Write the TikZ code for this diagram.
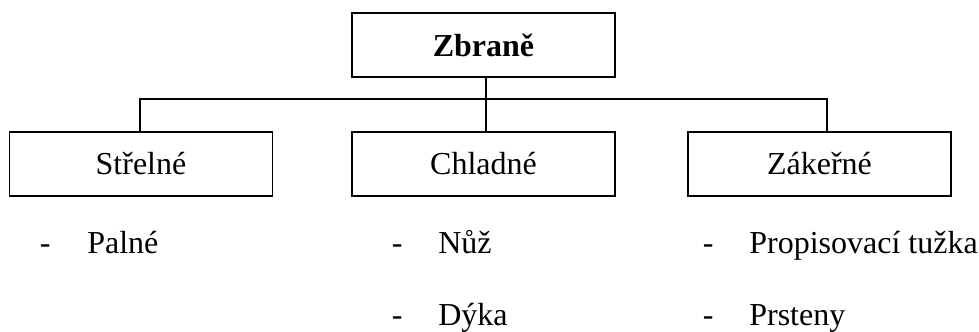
\documentclass[tikz,border=0pt]{standalone}
\usepackage{fontspec}
\setmainfont{Liberation Serif}

\tikzset{every picture/.style={line width=1.2pt}}
\tikzset{
  kindbox/.style={draw, rectangle, inner sep=0.75pt, minimum width=197.25pt, minimum height=48pt, font=\fontsize{24}{28}\selectfont},
  itemtext/.style={anchor=base west, inner sep=0pt, font=\fontsize{24}{28}\selectfont}
}

\begin{document}
\begin{tikzpicture}[x=0.75pt,y=0.75pt,yscale=-1,xscale=1]
\path[use as bounding box] (0,0) rectangle (979,332); %set diagram left start at 0, and has height of 332

%Shape: Rectangle [id:zbrane]
\node [kindbox] (zbrane) at (483.5,45) {\textbf{Zbraně}};
%Shape: Rectangle [id:strelne]
\node [kindbox] (strelne) at (141,164) {Střelné};
%Shape: Rectangle [id:chladne]
\node [kindbox] (chladne) at (483.5,164) {Chladné};
%Shape: Rectangle [id:zakerne]
\node [kindbox] (zakerne) at (819.5,164) {Zákeřné};

%Straight Lines
\coordinate (j0) at (140,99);
\coordinate (j1) at (486,99);
\coordinate (j2) at (827,99);
\draw (zbrane.south -| j1) -- (chladne.north -| j1) ;
\draw (strelne.north -| j0) -- (j0) -- (j2) -- (zakerne.north -| j2) ;

% Text Node
\node [itemtext] (d1) at (39,253) {-};
\node [itemtext] (palne) at (86.5,253) {Palné};
% Text Node
\node [itemtext] (d2) at (391,253) {-};
\node [itemtext] (nuz) at (437.5,253) {Nůž};
% Text Node
\node [itemtext] (d3) at (391,325) {-};
\node [itemtext] (dyka) at (437.5,325) {Dýka};
% Text Node
\node [itemtext] (d4) at (702,253) {-};
\node [itemtext] (tuzka) at (748.5,253) {Propisovací tužka};
% Text Node
\node [itemtext] (d5) at (702,325) {-};
\node [itemtext] (prsteny) at (748.5,325) {Prsteny};

\end{tikzpicture}
\end{document}
